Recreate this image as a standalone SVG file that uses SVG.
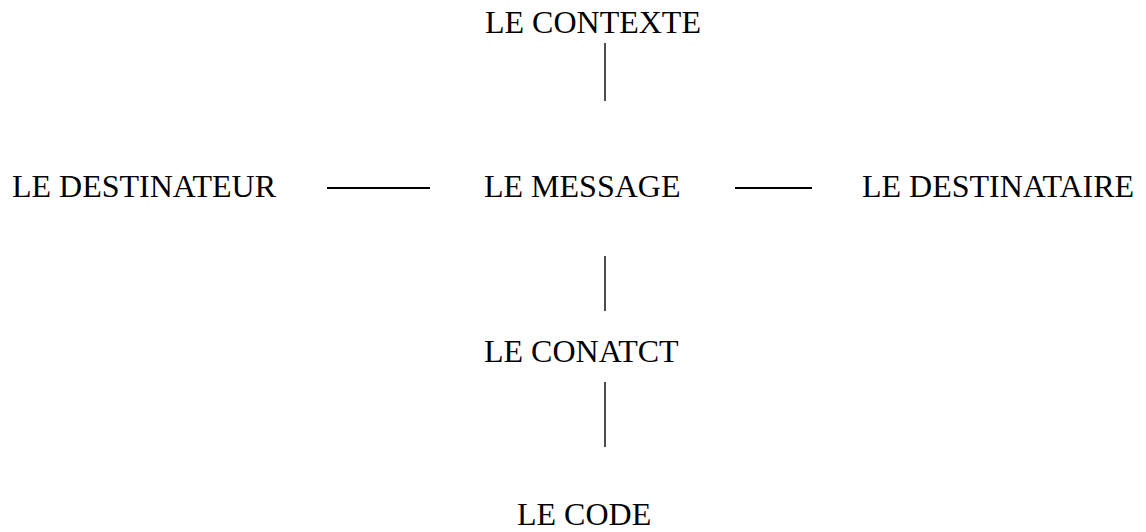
<svg xmlns="http://www.w3.org/2000/svg" width="1146" height="532" viewBox="0 0 1146 532">
<style>
text { font-family: "Liberation Serif", "Times New Roman", serif; font-size: 32px; fill: #000; }
.conn line { stroke: #000; stroke-width: 1.4; }
.conn line.h { stroke-width: 2; }
</style>
<rect width="1146" height="532" fill="#fff"/>
<g class="conn" id="connectors">
<line x1="605" y1="43" x2="605" y2="101"/>
<line class="h" x1="327" y1="188" x2="430" y2="188"/>
<line class="h" x1="735" y1="188" x2="812" y2="188"/>
<line x1="605" y1="256" x2="605" y2="311"/>
<line x1="605" y1="382" x2="605" y2="447"/>
</g>
<g id="contexte"><text x="485" y="33">LE CONTEXTE</text></g>
<g id="destinateur"><text x="12" y="197">LE DESTINATEUR</text></g>
<g id="message"><text x="484" y="197">LE MESSAGE</text></g>
<g id="destinataire"><text x="862" y="197">LE DESTINATAIRE</text></g>
<g id="contact"><text x="484" y="362">LE CONATCT</text></g>
<g id="code"><text x="517" y="525">LE CODE</text></g>
</svg>
